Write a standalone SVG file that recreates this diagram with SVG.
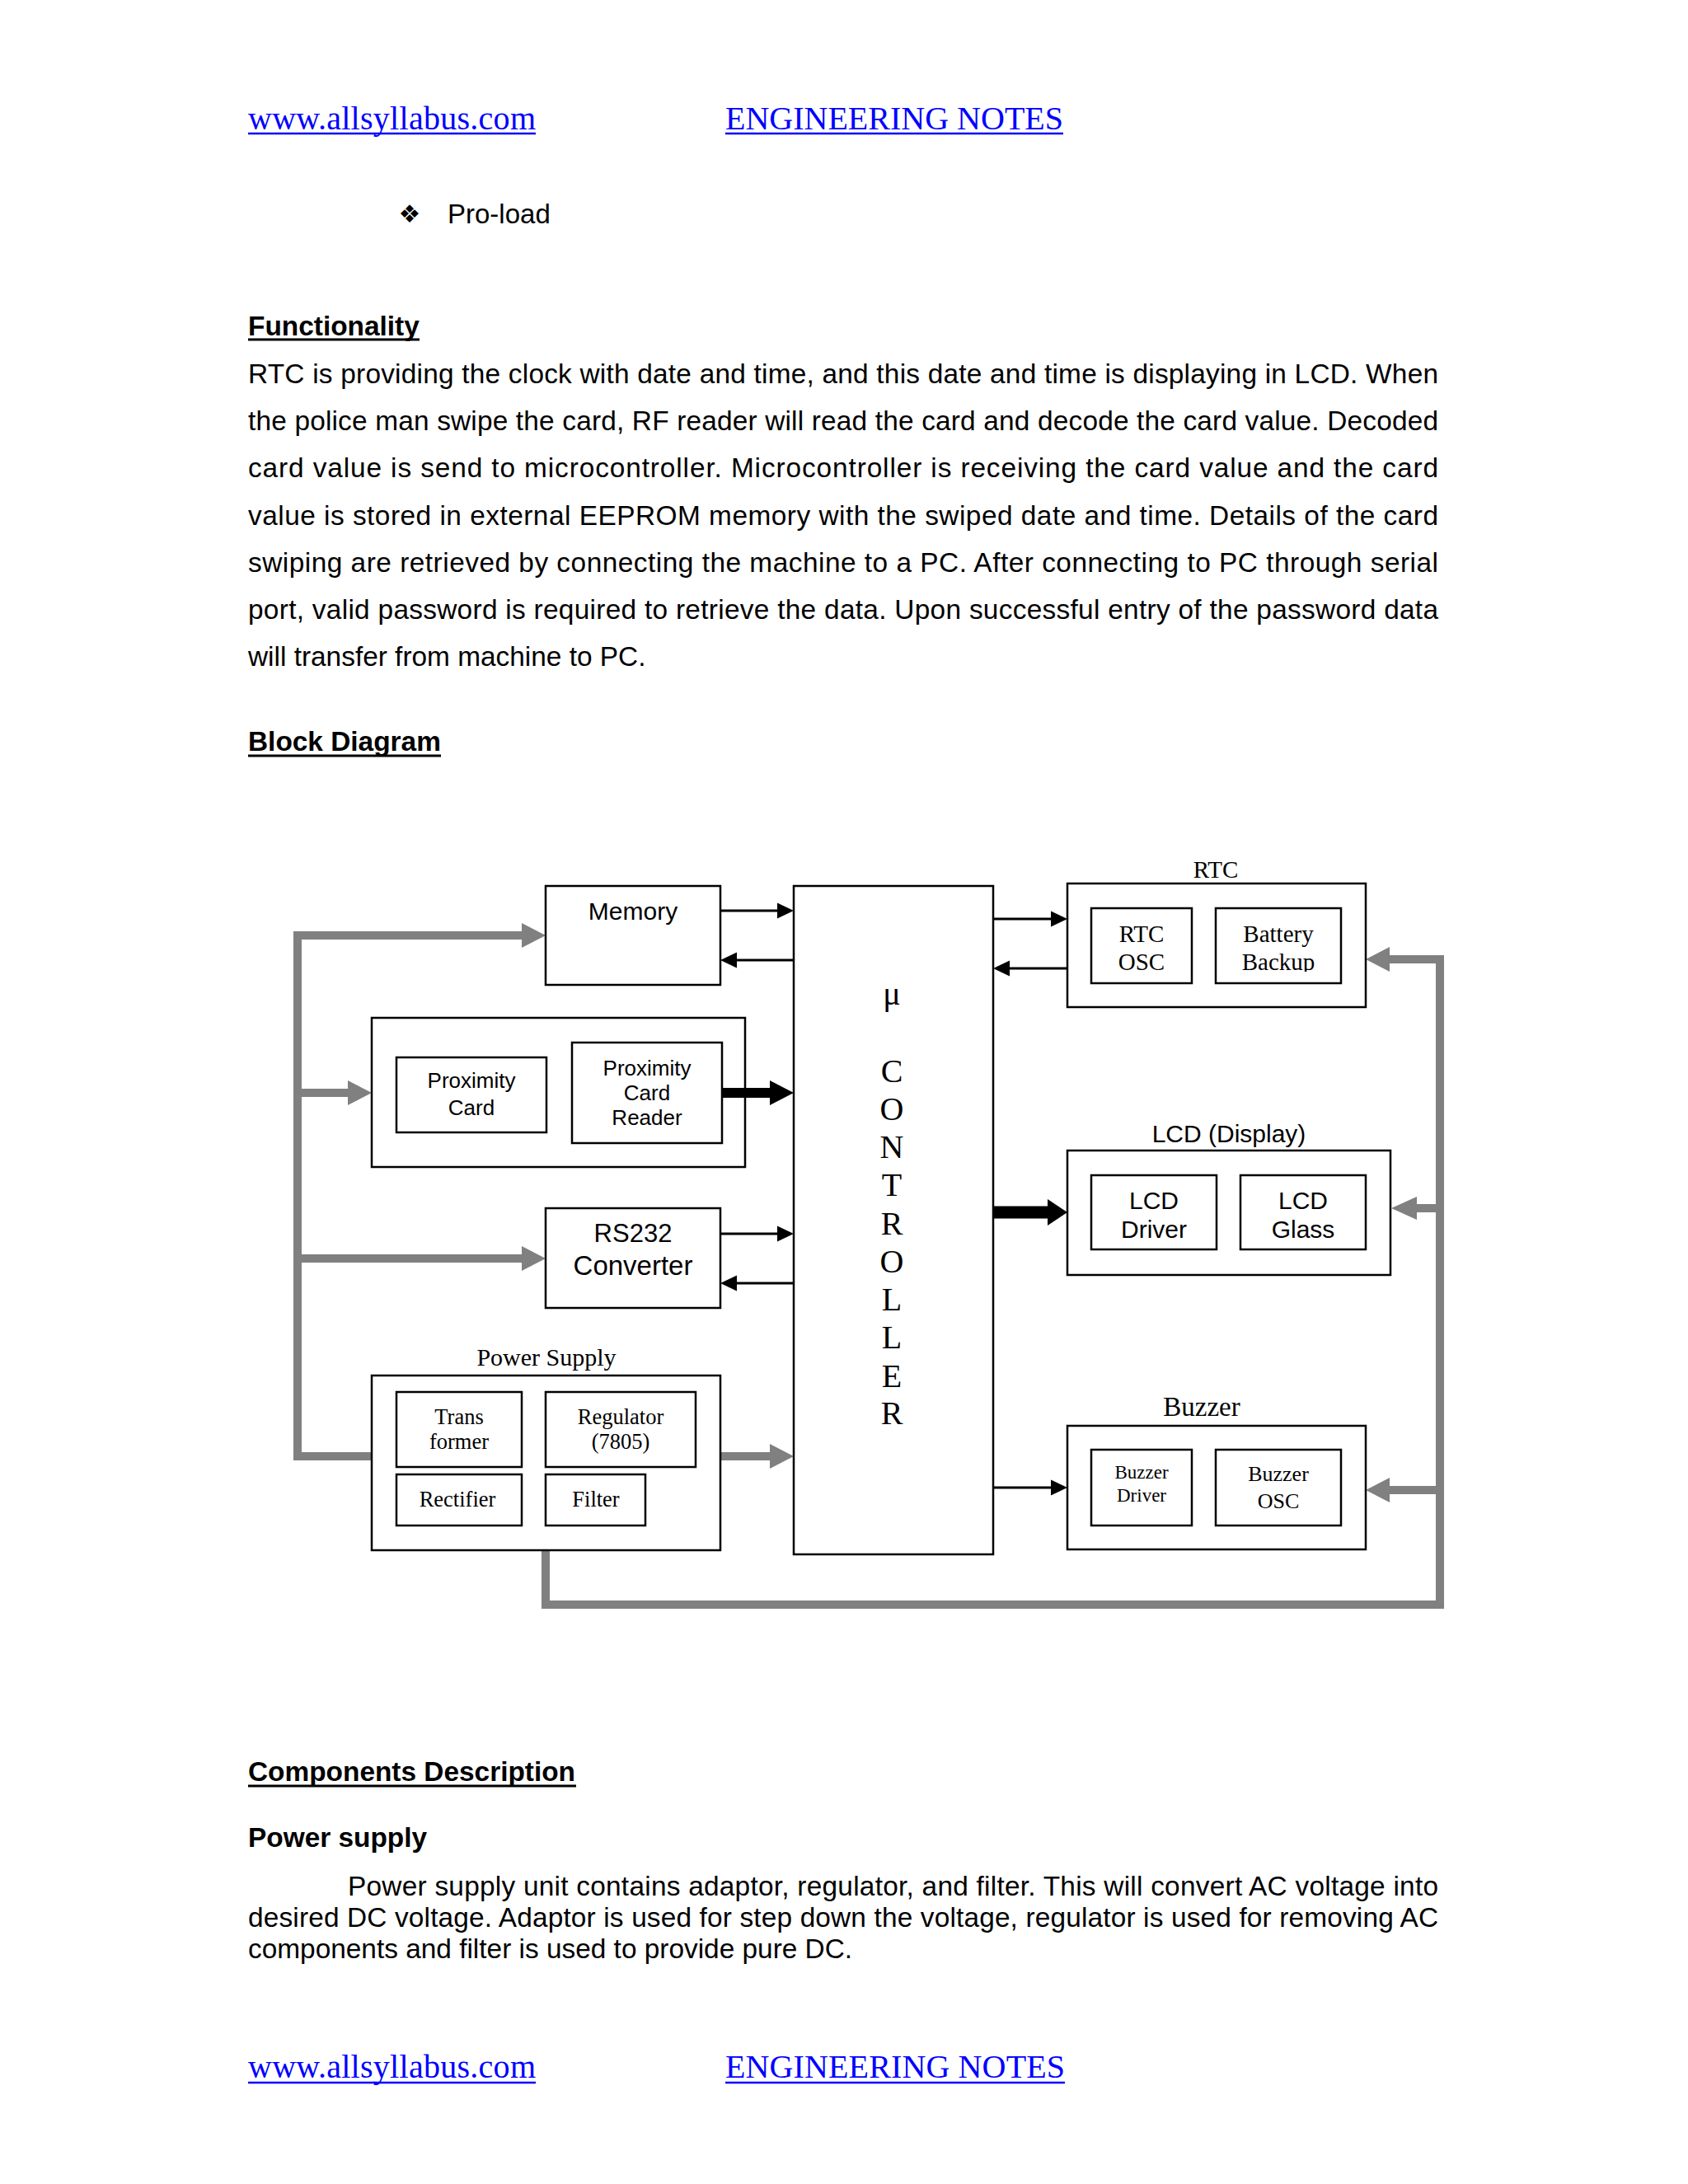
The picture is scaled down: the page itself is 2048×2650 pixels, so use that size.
<svg xmlns="http://www.w3.org/2000/svg" width="2048" height="2650" viewBox="0 0 2048 2650">
<style>
.box{fill:none;stroke:#000;stroke-width:2.5}
.thin{fill:none;stroke:#000;stroke-width:3}
.gray{fill:none;stroke:#808080;stroke-width:10;stroke-linejoin:miter}
.ah{fill:#000}
.gah{fill:#808080}
.sans{font-family:"Liberation Sans",Arial,sans-serif}
.serif{font-family:"Liberation Serif","Times New Roman",serif}
.link{font-family:"Liberation Serif","Times New Roman",serif;font-size:40px;fill:#0000FF}
.body{font-family:"Liberation Sans",Arial,sans-serif;font-size:33.4px;fill:#000}
.head{font-family:"Liberation Sans",Arial,sans-serif;font-size:33.4px;font-weight:bold;fill:#000}
.ul{stroke:#000;stroke-width:3}
.bul{stroke:#0000FF;stroke-width:2.5}
.mid{text-anchor:middle}
</style>
<defs>
<clipPath id="bbclip"><rect x="1475" y="1102" width="152" height="77"/></clipPath>
</defs>
<rect width="2048" height="2650" fill="#fff"/>

<g id="page-header">
<text class="link" x="301" y="157" textLength="349" lengthAdjust="spacing">www.allsyllabus.com</text>
<line class="bul" x1="301" y1="162" x2="650" y2="162"/>
<text class="link" x="880" y="157" textLength="410" lengthAdjust="spacing">ENGINEERING NOTES</text>
<line class="bul" x1="880" y1="162" x2="1290" y2="162"/>
</g>

<g id="bullet">
<text x="497" y="270" class="mid" style="font-family:'DejaVu Sans',sans-serif;font-size:30px">❖</text>
<text class="body" x="543" y="271" style="font-size:33px">Pro-load</text>
</g>

<g id="functionality">
<text class="head" x="301" y="407">Functionality</text>
<line class="ul" x1="301" y1="412" x2="509" y2="412"/>
<text class="body" x="301" y="465" textLength="1444" lengthAdjust="spacing">RTC is providing the clock with date and time, and this date and time is displaying in LCD. When</text>
<text class="body" x="301" y="522" textLength="1444" lengthAdjust="spacing">the police man swipe the card, RF reader will read the card and decode the card value. Decoded</text>
<text class="body" x="301" y="579" textLength="1444" lengthAdjust="spacing">card value is send to microcontroller. Microcontroller is receiving the card value and the card</text>
<text class="body" x="301" y="636.5" textLength="1444" lengthAdjust="spacing">value is stored in external EEPROM memory with the swiped date and time. Details of the card</text>
<text class="body" x="301" y="693.5" textLength="1444" lengthAdjust="spacing">swiping are retrieved by connecting the machine to a PC. After connecting to PC through serial</text>
<text class="body" x="301" y="751" textLength="1444" lengthAdjust="spacing">port, valid password is required to retrieve the data. Upon successful entry of the password data</text>
<text class="body" x="301" y="808">will transfer from machine to PC.</text>
</g>

<g id="block-diagram-title">
<text class="head" x="301" y="911">Block Diagram</text>
<line class="ul" x1="301" y1="917" x2="535" y2="917"/>
</g>

<g id="connectors">
<line class="thin" x1="874" y1="1105" x2="945" y2="1105"/>
<polygon class="ah" points="963,1105 943,1095.5 943,1114.5"/>
<line class="thin" x1="963" y1="1165" x2="892" y2="1165"/>
<polygon class="ah" points="874,1165 894,1155.5 894,1174.5"/>
<line class="thin" x1="874" y1="1497" x2="945" y2="1497"/>
<polygon class="ah" points="963,1497 943,1487.5 943,1506.5"/>
<line class="thin" x1="963" y1="1557" x2="892" y2="1557"/>
<polygon class="ah" points="874,1557 894,1547.5 894,1566.5"/>
<line class="thin" x1="1205" y1="1115" x2="1277" y2="1115"/>
<polygon class="ah" points="1295,1115 1275,1105.5 1275,1124.5"/>
<line class="thin" x1="1295" y1="1175" x2="1223" y2="1175"/>
<polygon class="ah" points="1205,1175 1225,1165.5 1225,1184.5"/>
<line class="thin" x1="1205" y1="1805" x2="1277" y2="1805"/>
<polygon class="ah" points="1295,1805 1275,1795.5 1275,1814.5"/>
<line x1="876" y1="1326" x2="936" y2="1326" stroke="#000" stroke-width="12"/>
<polygon class="ah" points="963,1326 934,1311 934,1341"/>
<line x1="1205" y1="1471" x2="1273" y2="1471" stroke="#000" stroke-width="15"/>
<polygon class="ah" points="1295,1471 1271,1455 1271,1487"/>
<path class="gray" d="M633,1135 H361 V1767 H451"/>
<polygon class="gah" points="662,1135 633,1120 633,1150"/>
<line class="gray" x1="361" y1="1326" x2="423" y2="1326"/>
<polygon class="gah" points="451,1326 422,1311 422,1341"/>
<line class="gray" x1="361" y1="1527" x2="634" y2="1527"/>
<polygon class="gah" points="662,1527 633,1512 633,1542"/>
<line class="gray" x1="874" y1="1767" x2="935" y2="1767"/>
<polygon class="gah" points="963,1767 934,1752 934,1782"/>
<path class="gray" d="M662,1881 V1947 H1747 V1164 H1685"/>
<polygon class="gah" points="1657,1164 1686,1149 1686,1179"/>
<line class="gray" x1="1747" y1="1466" x2="1718" y2="1466"/>
<polygon class="gah" points="1688,1466 1719,1452 1719,1480"/>
<line class="gray" x1="1747" y1="1808" x2="1685" y2="1808"/>
<polygon class="gah" points="1657,1808 1686,1793 1686,1823"/>
</g>

<g id="memory">
<rect class="box" x="662" y="1075" width="212" height="120"/>
<text class="sans mid" x="768" y="1116" font-size="30">Memory</text>
</g>

<g id="proximity">
<rect class="box" x="451" y="1235" width="453" height="181"/>
<g id="proximity-card">
<rect class="box" x="481" y="1283" width="182" height="91"/>
<text class="sans mid" x="572" y="1320" font-size="26">Proximity</text>
<text class="sans mid" x="572" y="1353" font-size="26">Card</text>
</g>
<g id="proximity-card-reader">
<rect class="box" x="694" y="1265" width="182" height="122"/>
<text class="sans mid" x="785" y="1305" font-size="26">Proximity</text>
<text class="sans mid" x="785" y="1335" font-size="26">Card</text>
<text class="sans mid" x="785" y="1365" font-size="26">Reader</text>
</g>
</g>

<g id="rs232">
<rect class="box" x="662" y="1466" width="212" height="121"/>
<text class="sans mid" x="768" y="1507" font-size="31">RS232</text>
<text class="sans mid" x="768" y="1547" font-size="33">Converter</text>
</g>

<g id="power-supply">
<text class="serif mid" x="663" y="1657" font-size="30">Power Supply</text>
<rect class="box" x="451" y="1669" width="423" height="212"/>
<rect class="box" x="481" y="1689" width="152" height="91"/>
<text class="serif mid" x="557" y="1728" font-size="26.5">Trans</text>
<text class="serif mid" x="557" y="1758" font-size="26.5">former</text>
<rect class="box" x="662" y="1689" width="182" height="91"/>
<text class="serif mid" x="753" y="1728" font-size="26.5">Regulator</text>
<text class="serif mid" x="753" y="1758" font-size="26.5">(7805)</text>
<rect class="box" x="481" y="1789" width="152" height="62"/>
<text class="serif mid" x="555" y="1828" font-size="26.5">Rectifier</text>
<rect class="box" x="662" y="1789" width="121" height="62"/>
<text class="serif mid" x="723" y="1828" font-size="26.5">Filter</text>
</g>

<g id="microcontroller">
<rect class="box" x="963" y="1075" width="242" height="811"/>
<g class="serif mid" font-size="40">
<text x="1082" y="1219">μ</text>
<text x="1082" y="1313">C</text>
<text x="1082" y="1359">O</text>
<text x="1082" y="1405">N</text>
<text x="1082" y="1451">T</text>
<text x="1082" y="1498">R</text>
<text x="1082" y="1544">O</text>
<text x="1082" y="1590">L</text>
<text x="1082" y="1636">L</text>
<text x="1082" y="1683">E</text>
<text x="1082" y="1728">R</text>
</g>
</g>

<g id="rtc">
<text class="serif mid" x="1475" y="1065" font-size="29">RTC</text>
<rect class="box" x="1295" y="1072" width="362" height="150"/>
<rect class="box" x="1324" y="1102" width="122" height="91"/>
<text class="serif mid" x="1385" y="1143" font-size="29">RTC</text>
<text class="serif mid" x="1385" y="1177" font-size="29">OSC</text>
<rect class="box" x="1475" y="1102" width="152" height="91"/>
<g clip-path="url(#bbclip)">
<text class="serif mid" x="1551" y="1143" font-size="29">Battery</text>
<text class="serif mid" x="1551" y="1177" font-size="29">Backup</text>
</g>
</g>

<g id="lcd">
<text class="sans mid" x="1491" y="1386" font-size="30">LCD (Display)</text>
<rect class="box" x="1295" y="1396" width="392" height="151"/>
<rect class="box" x="1324" y="1426" width="152" height="90"/>
<text class="sans mid" x="1400" y="1467" font-size="30">LCD</text>
<text class="sans mid" x="1400" y="1502" font-size="30">Driver</text>
<rect class="box" x="1505" y="1426" width="152" height="90"/>
<text class="sans mid" x="1581" y="1467" font-size="30">LCD</text>
<text class="sans mid" x="1581" y="1502" font-size="30">Glass</text>
</g>

<g id="buzzer">
<text class="serif mid" x="1458" y="1718" font-size="33">Buzzer</text>
<rect class="box" x="1295" y="1730" width="362" height="150"/>
<rect class="box" x="1324" y="1759" width="122" height="92"/>
<text class="serif mid" x="1385" y="1794" font-size="23">Buzzer</text>
<text class="serif mid" x="1385" y="1822" font-size="23">Driver</text>
<rect class="box" x="1475" y="1759" width="152" height="92"/>
<text class="serif mid" x="1551" y="1797" font-size="26">Buzzer</text>
<text class="serif mid" x="1551" y="1830" font-size="26">OSC</text>
</g>

<g id="components">
<text class="head" x="301" y="2161">Components Description</text>
<line class="ul" x1="301" y1="2167" x2="699" y2="2167"/>
<text class="head" x="301" y="2241">Power supply</text>
<text class="body" x="422" y="2300" textLength="1323" lengthAdjust="spacing">Power supply unit contains adaptor, regulator, and filter. This will convert AC voltage into</text>
<text class="body" x="301" y="2338" textLength="1444" lengthAdjust="spacing">desired DC voltage. Adaptor is used for step down the voltage, regulator is used for removing AC</text>
<text class="body" x="301" y="2376">components and filter is used to provide pure DC.</text>
</g>

<g id="page-footer">
<text class="link" x="301" y="2521" textLength="349" lengthAdjust="spacing">www.allsyllabus.com</text>
<line class="bul" x1="301" y1="2527" x2="650" y2="2527"/>
<text class="link" x="880" y="2521" textLength="412" lengthAdjust="spacing">ENGINEERING NOTES</text>
<line class="bul" x1="880" y1="2527" x2="1292" y2="2527"/>
</g>
</svg>
